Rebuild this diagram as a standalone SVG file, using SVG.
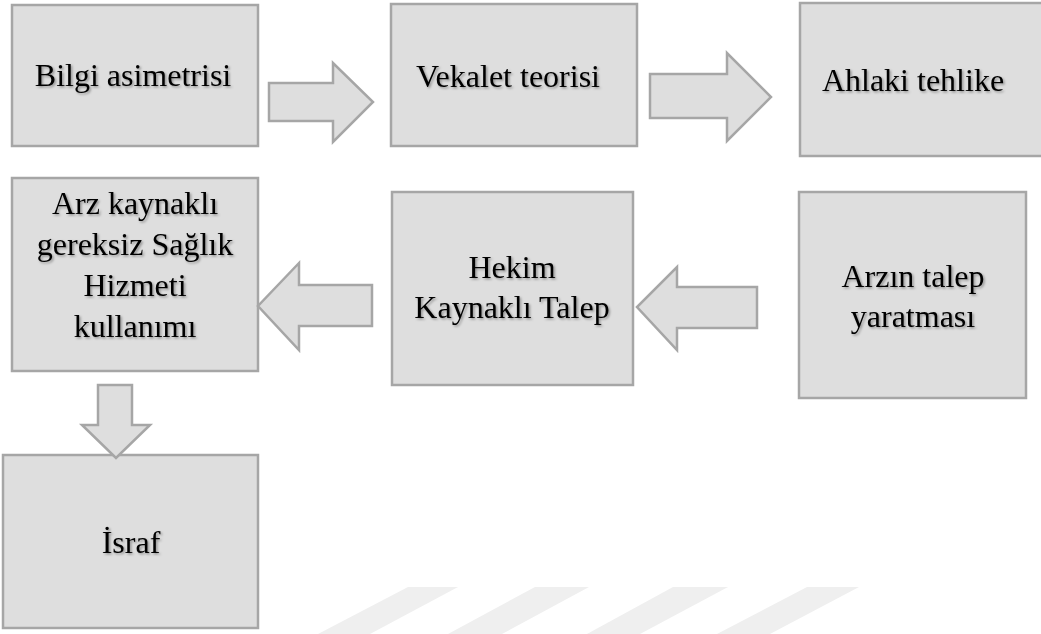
<svg xmlns="http://www.w3.org/2000/svg" width="1041" height="634" viewBox="0 0 1041 634">
<defs>
<style>
.box{fill:#dedede;stroke:#a6a6a6;stroke-width:2.5}
.arr{fill:#dedede;stroke:#a6a6a6;stroke-width:2.5;stroke-linejoin:miter}
.lbl{font-family:"Liberation Serif","Times New Roman",serif;font-size:32px;fill:#000;text-anchor:middle;filter:url(#sh)}
.wm{fill:#efefef}
</style>
<filter id="sh" x="-10%" y="-30%" width="120%" height="160%">
<feDropShadow dx="1.5" dy="1.5" stdDeviation="1" flood-color="#000" flood-opacity="0.35"/>
</filter>
</defs>
<rect width="1041" height="634" fill="#ffffff"/>
<g id="watermark">
<polygon class="wm" points="408,587 458,587 370,634 318,634"/>
<polygon class="wm" points="535,587 589,587 502,634 448,634"/>
<polygon class="wm" points="673,587 728,587 640,634 587,634"/>
<polygon class="wm" points="807,587 859,587 770,634 717,634"/>
</g>
<g id="n1"><rect class="box" x="12" y="5" width="246" height="141"/><text class="lbl" x="133" y="86">Bilgi asimetrisi</text></g>
<g id="n2"><rect class="box" x="391" y="4" width="246" height="142"/><text class="lbl" x="508" y="87">Vekalet teorisi</text></g>
<g id="n3"><rect class="box" x="800" y="3" width="260" height="153"/><text class="lbl" x="913" y="91">Ahlaki tehlike</text></g>
<g id="n4"><rect class="box" x="12" y="178" width="246" height="193"/><text class="lbl" x="135" y="214">Arz kaynaklı</text><text class="lbl" x="135" y="255">gereksiz Sağlık</text><text class="lbl" x="135" y="296">Hizmeti</text><text class="lbl" x="135" y="337">kullanımı</text></g>
<g id="n5"><rect class="box" x="392" y="192" width="241" height="193"/><text class="lbl" x="512" y="278">Hekim</text><text class="lbl" x="512" y="318">Kaynaklı Talep</text></g>
<g id="n6"><rect class="box" x="799" y="192" width="227" height="206"/><text class="lbl" x="913" y="287">Arzın talep</text><text class="lbl" x="913" y="327">yaratması</text></g>
<g id="n7"><rect class="box" x="3" y="455" width="255" height="173"/><text class="lbl" x="131" y="553">İsraf</text></g>
<g id="connectors">
<polygon class="arr" points="269,83 333,83 333,63 373,102 333,142 333,121 269,121"/>
<polygon class="arr" points="650,74 727,74 727,53 771,97 727,141 727,118 650,118"/>
<polygon class="arr" points="372,285 299,285 299,263 258,306 299,350 299,326 372,326"/>
<polygon class="arr" points="757,287 677,287 677,267 637,307 677,350 677,328 757,328"/>
<polygon class="arr" points="98,385 132,385 132,425 150,425 116,458 82,425 98,425"/>
</g>
</svg>
